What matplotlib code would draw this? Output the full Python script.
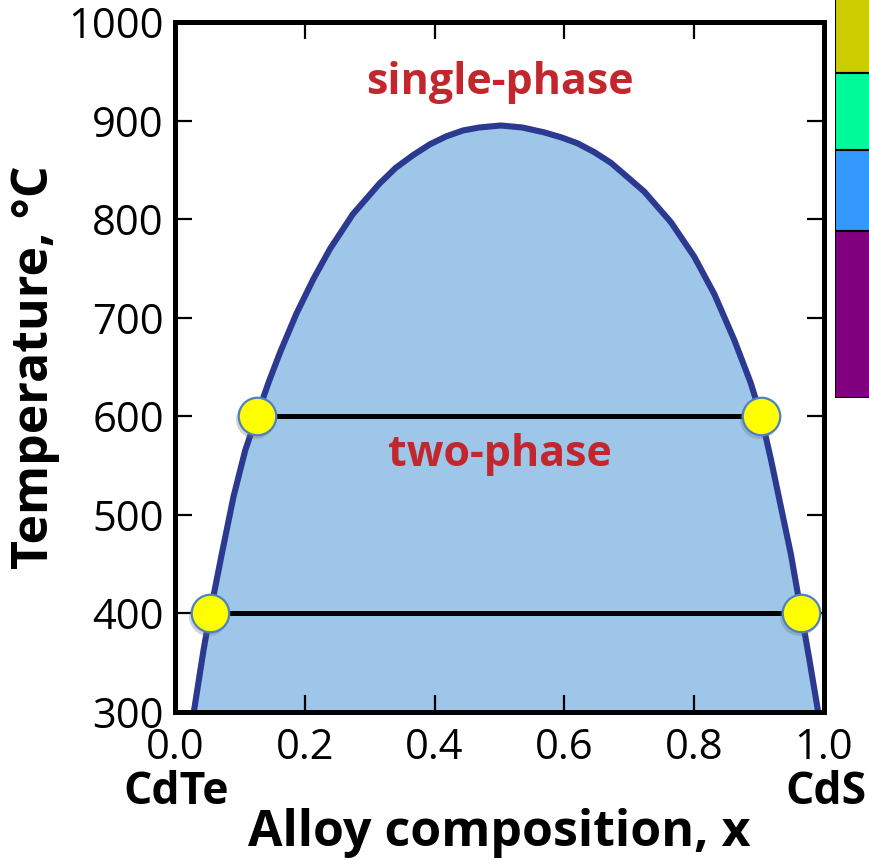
import matplotlib
matplotlib.use("Agg")
import matplotlib.pyplot as plt
from matplotlib.patches import Rectangle
from matplotlib.transforms import offset_copy

plt.rcParams['font.family'] = ['Open Sans', 'DejaVu Sans']

# Miscibility-gap boundary (composition x, temperature in °C)
boundary_x = [0.029, 0.044, 0.054, 0.072, 0.090, 0.108, 0.126, 0.144, 0.162,
              0.187, 0.213, 0.239, 0.274, 0.315, 0.340, 0.367, 0.393, 0.418,
              0.444, 0.469, 0.502, 0.535, 0.569, 0.595, 0.620, 0.646, 0.672,
              0.723, 0.764, 0.800, 0.831, 0.862, 0.887,
              0.903, 0.918, 0.933, 0.949, 0.965, 0.977, 0.991]
boundary_T = [300, 363, 400, 460, 518, 565, 600, 634, 665,
              704, 739, 770, 805, 836, 852, 865, 876, 884,
              890, 893, 895, 893, 888, 883, 877, 868, 857,
              828, 797, 762, 724, 677, 634,
              600, 557, 510, 460, 400, 355, 300]

# Tie lines: temperature and the two coexisting compositions
tie_T = [600, 400]
tie_left = [0.126, 0.054]
tie_right = [0.903, 0.965]

x_ticks = [0.0, 0.2, 0.4, 0.6, 0.8, 1.0]
x_ticklabels = ['0.0', '0.2', '0.4', '0.6', '0.8', '1.0']
y_ticks = [300, 400, 500, 600, 700, 800, 900, 1000]

# Colour key strip on the right edge (top to bottom, relative heights)
key_colors = ['#CCCC00', '#00FA9A', '#3399FF', '#800080']
key_heights = [90, 77, 81, 167]

W, H = 869, 860
fig = plt.figure(figsize=(W / 100, H / 100), dpi=100)
ax = fig.add_axes([175 / W, 1 - 712 / H, (824 - 175) / W, (712 - 22) / H])

fill_color = '#9DC6E9'
curve_color = '#2B3990'

ax.fill(boundary_x, boundary_T, color=fill_color, zorder=1, lw=0)
ax.plot(boundary_x, boundary_T, color=curve_color, lw=4.4, zorder=3,
        solid_capstyle='butt', solid_joinstyle='round')

shadow_tr = offset_copy(ax.transData, fig=fig, x=-1.5, y=-2.0, units='points')
for T, xl, xr in zip(tie_T, tie_left, tie_right):
    ax.plot([xl, xr], [T, T], color='black', lw=3.6, zorder=2, solid_capstyle='butt')
    ax.plot([xl, xr], [T, T], ls='none', marker='o', ms=28, mfc='#707070',
            mec='none', alpha=0.3, zorder=4, clip_on=False, transform=shadow_tr)
    ax.plot([xl, xr], [T, T], ls='none', marker='o', ms=27, mfc='#FFFF00',
            mec='#4F81BD', mew=1.6, zorder=5, clip_on=False)

ax.text(0.5, 939, 'single-phase', color='#C1272D', fontsize=31,
        fontweight='bold', ha='center', va='center')
ax.text(0.5, 561, 'two-phase', color='#C1272D', fontsize=31,
        fontweight='bold', ha='center', va='center')

ax.set_xlim(0, 1)
ax.set_ylim(300, 1000)
ax.set_xticks(x_ticks)
ax.set_xticklabels(x_ticklabels)
ax.set_yticks(y_ticks)
ax.tick_params(direction='in', length=12, width=1.6, top=True, right=True,
               labelsize=30, pad=8, colors='black')
ax.tick_params(axis='x', pad=11)
for s in ax.spines.values():
    s.set_linewidth(3.6)
    s.set_zorder(6)

ax.set_ylabel('Temperature, °C', fontsize=36, fontweight='bold', labelpad=6)
ax.set_xlabel('Alloy composition, x', fontsize=36, fontweight='bold', labelpad=28)

fig.text(176 / W, 1 - 793 / H, 'CdTe', fontsize=32, fontweight='bold',
         ha='center', va='center')
fig.text(826 / W, 1 - 793 / H, 'CdS', fontsize=32, fontweight='bold',
         ha='center', va='center')

# colour key strip, partly outside the canvas
kax = fig.add_axes([835 / W, 1 - 398 / H, 80 / W, 415 / H])
kax.set_xlim(0, 1)
kax.set_ylim(0, sum(key_heights))
kax.axis('off')
top = sum(key_heights)
for c, h in zip(key_colors, key_heights):
    kax.add_patch(Rectangle((0, top - h), 1, h, facecolor=c, edgecolor='black', lw=1.5))
    top -= h

fig.savefig('out.png', dpi=100)
